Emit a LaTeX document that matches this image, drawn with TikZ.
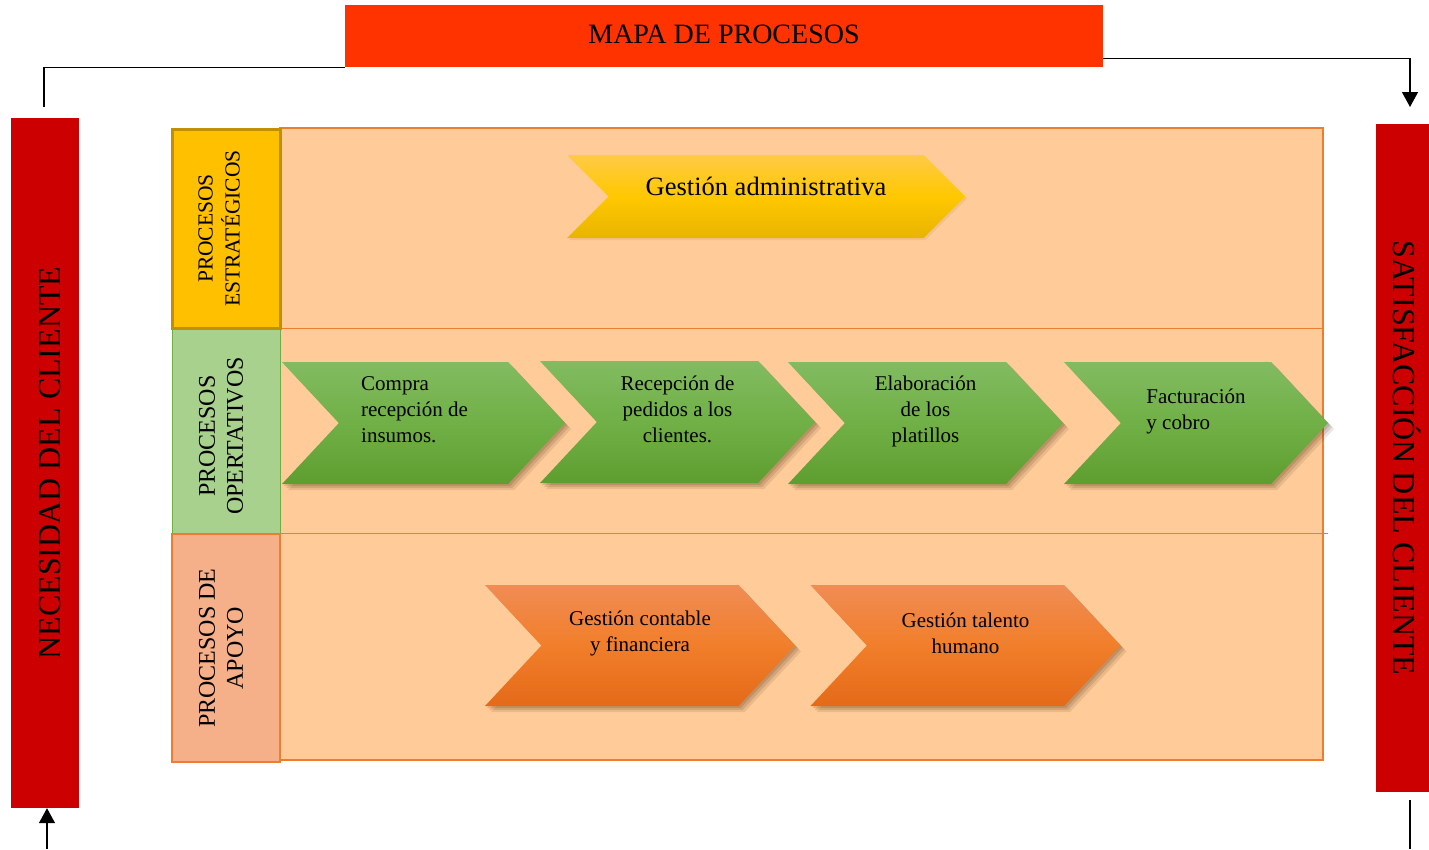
\documentclass[tikz,border=0pt]{standalone}
\usepackage{fontspec}
\setmainfont{Liberation Serif}
\usetikzlibrary{arrows.meta}
\usetikzlibrary{shapes.symbols}
\usetikzlibrary{shadows}
\definecolor{titlered}{RGB}{255,51,0}
\definecolor{barred}{RGB}{204,0,0}
\definecolor{peach}{RGB}{255,204,153}
\definecolor{orangeline}{RGB}{237,125,49}
\definecolor{gold}{RGB}{255,192,0}
\definecolor{darkgold}{RGB}{191,144,0}
\definecolor{lightgreen}{RGB}{169,209,142}
\definecolor{midgreen}{RGB}{112,173,71}
\definecolor{salmon}{RGB}{245,175,137}
\definecolor{shadowbrown}{RGB}{90,55,30}
\tikzset{
    bar/.style = {rectangle, fill=barred, inner sep=0pt},
    bar_text/.style = {inner sep=0pt, font=\fontsize{32}{38}\selectfont},
    cell/.style = {rectangle, inner sep=0pt, minimum width=108pt},
    cell_text/.style = {inner sep=0pt, align=center, rotate=90, font=\fontsize{24}{28}\selectfont},
    link/.style = {draw=black, line width=1.3pt},
    tip/.style = {-{Triangle[width=16pt, length=15pt]}},
    lane_line/.style = {draw=orangeline, line width=1pt}
}
\tikzset{
    chev/.style = {signal, signal from=west, signal to=east, inner sep=0pt, draw=none},
    shadowed/.style = {
        drop shadow={shadow xshift=2pt, shadow yshift=-2pt, opacity=.18, fill=shadowbrown},
        drop shadow={shadow xshift=4pt, shadow yshift=-4pt, opacity=.16, fill=shadowbrown},
        drop shadow={shadow xshift=6pt, shadow yshift=-6pt, opacity=.12, fill=shadowbrown}},
    yellow_chev/.style = {chev, signal pointer angle=90, minimum height=83pt, minimum width=398pt,
        drop shadow={shadow xshift=2pt, shadow yshift=-2pt, opacity=.08, fill=shadowbrown},
        top color={rgb,255:red,255;green,202;blue,70}, bottom color={rgb,255:red,232;green,180;blue,0}, middle color={rgb,255:red,255;green,200;blue,0}},
    green_chev/.style = {chev, shadowed, signal pointer angle=94, minimum height=122pt,
        top color={rgb,255:red,130;green,187;blue,98}, bottom color={rgb,255:red,94;green,158;blue,48}, middle color={rgb,255:red,112;green,176;blue,70}},
    orange_chev/.style = {chev, shadowed, signal pointer angle=94, minimum height=121pt, minimum width=310pt,
        top color={rgb,255:red,240;green,140;blue,85}, bottom color={rgb,255:red,228;green,106;blue,24}, middle color={rgb,255:red,241;green,126;blue,42}},
    chev_text/.style = {inner sep=0pt, align=center, font=\fontsize{21}{26}\selectfont}
}

\begin{document}
\begin{tikzpicture}[x=1pt, y=-1pt]
    \useasboundingbox (0,0) rectangle (1429,849);

    \node [rectangle, fill=titlered, inner sep=0pt, minimum width=758pt, minimum height=62pt,
        font=\fontsize{28}{33}\selectfont] (title) at (724,36) {};
    \node [inner sep=0pt, font=\fontsize{28}{33}\selectfont] (title_text) at ([yshift=2pt]title.center) {MAPA DE PROCESOS};

    \node [bar, minimum width=68pt, minimum height=690pt] (need) at (45,463) {};
    \node [bar, minimum width=53pt, minimum height=668pt] (sat) at (1402.5,458) {};
    \node [bar_text, rotate=90] (need_text) at ([xshift=5pt]need.center) {NECESIDAD DEL CLIENTE};
    \node [bar_text, rotate=-90] (sat_text) at ([xshift=5pt]sat.center) {SATISFACCIÓN DEL CLIENTE};

    \coordinate (need_in) at (44,107);
    \coordinate (need_out) at (47,849);
    \coordinate (sat_in) at (1410,107);
    \coordinate (sat_low) at (1410,800);
    \coordinate (sat_out) at (1410,849);

    \draw [link] (title.south west) -| (need_in);
    \draw [link, tip] ([yshift=9pt]title.south east) -| (sat_in);
    \draw [link, tip] (need_out) -- (need_out |- need.south);
    \draw [link] (sat_low) -- (sat_out);

    \node [rectangle, fill=peach, draw=orangeline, line width=2pt, minimum width=1043pt, minimum height=632pt] (panel) at (801.5,444) {};
    \draw [lane_line] (280,328) -- (1323,328);
    \draw [lane_line] (280,533) -- (1328,533);

    \node [cell, minimum height=199pt, fill=gold, draw=darkgold, line width=3pt] (est) at (226,228.5) {};
    \node [cell, minimum height=204pt, fill=lightgreen, draw=midgreen, line width=.8pt] (ope) at (226,431) {};
    \node [cell, minimum height=228pt, fill=salmon, draw=orangeline, line width=1.5pt] (apo) at (226,648) {};
    \node [cell_text, font=\fontsize{21.5}{27}\selectfont] (est_text) at ([xshift=-7pt]est.center) {PROCESOS\\ESTRATÉGICOS};
    \node [cell_text] (ope_text) at ([xshift=-5pt, yshift=-5pt]ope.center) {PROCESOS\\OPERTATIVOS};
    \node [cell_text] (apo_text) at ([xshift=-5pt]apo.center) {PROCESOS DE\\APOYO};

    \node [yellow_chev] (admin) at (766,196.5) {};
    \node [chev_text, font=\fontsize{26.5}{32}\selectfont] (admin_text) at ([yshift=10pt]admin.center) {Gestión administrativa};

    \node [green_chev, minimum width=283pt] (op1) at (423.5,423) {};
    \node [green_chev, minimum width=275pt] (op2) at (677.5,422) {};
    \node [green_chev, minimum width=275pt] (op3) at (925.5,423) {};
    \node [green_chev, minimum width=264pt] (op4) at (1196,423) {};
    \node [chev_text, align=left] (op1_text) at ([xshift=-9pt, yshift=13pt]op1.center) {Compra\\recepción de\\insumos.};
    \node [chev_text] (op2_text) at ([yshift=13pt]op2.center) {Recepción de\\pedidos a los\\clientes.};
    \node [chev_text] (op3_text) at ([yshift=12pt]op3.center) {Elaboración\\de los\\platillos};
    \node [chev_text, align=left] (op4_text) at ([yshift=12pt]op4.center) {Facturación\\y cobro};

    \node [orange_chev] (sup1) at (640,645.5) {};
    \node [orange_chev] (sup2) at (965.5,645.5) {};
    \node [chev_text] (sup1_text) at ([yshift=12pt]sup1.center) {Gestión contable\\y financiera};
    \node [chev_text] (sup2_text) at ([yshift=12pt]sup2.center) {Gestión talento\\humano};
\end{tikzpicture}
\end{document}
